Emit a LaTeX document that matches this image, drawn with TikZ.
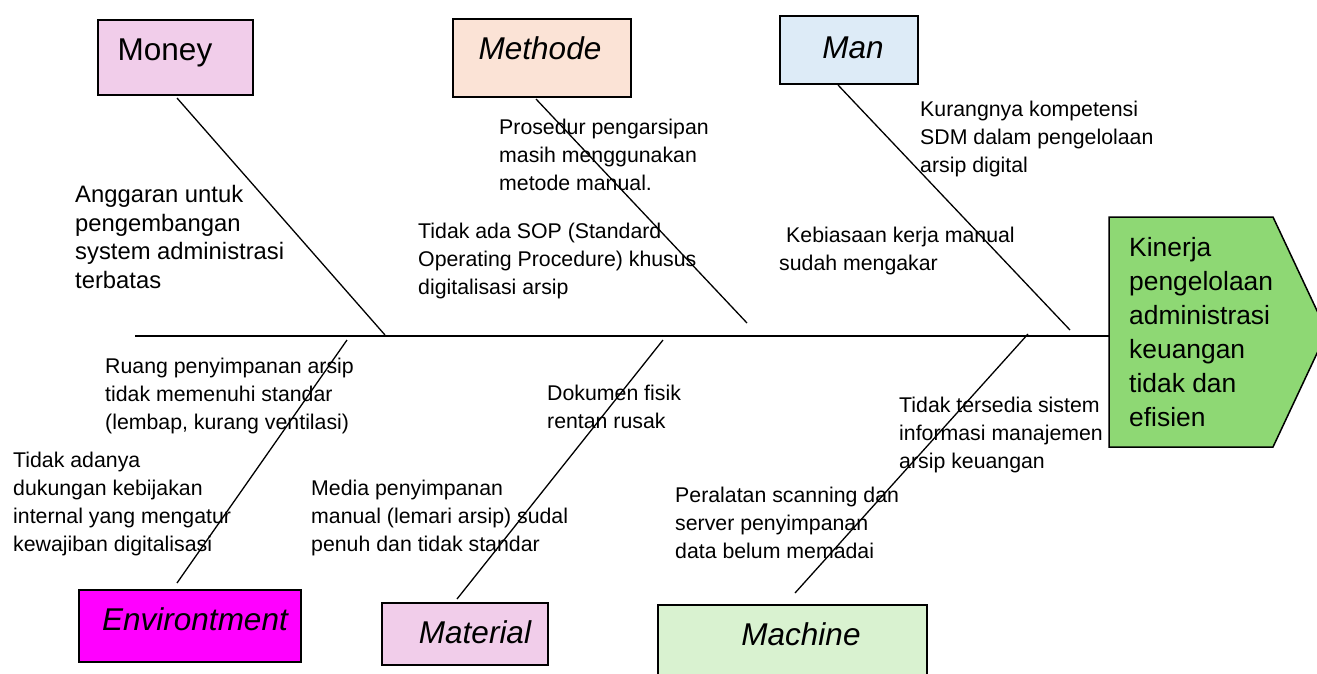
\documentclass[tikz,border=0pt]{standalone}
\usepackage{fontspec}
\setmainfont{Liberation Sans}
\definecolor{moneypink}{RGB}{241,205,234}
\definecolor{methodepeach}{RGB}{251,227,214}
\definecolor{manblue}{RGB}{221,235,247}
\definecolor{envmagenta}{RGB}{255,0,255}
\definecolor{machinegreen}{RGB}{217,242,208}
\definecolor{effectgreen}{RGB}{142,216,116}
\begin{document}
\begin{tikzpicture}[x=1pt,y=-1pt,
    catbox/.style={draw,line width=2pt,anchor=north west,inner sep=0pt},
    catlabel/.style={anchor=base,inner sep=0pt,font=\fontsize{31.5}{36}\selectfont\itshape},
    cause/.style={anchor=north west,inner sep=0pt,align=left,font=\fontsize{21.3}{28}\selectfont},
    bone/.style={line width=1.3pt}]
    \path[use as bounding box,clip] (0,0) rectangle (1317,673);
    % category boxes
    \node[catbox,fill=moneypink,minimum width=155pt,minimum height=75pt] (money) at (97,19) {};
    \node[catbox,fill=methodepeach,minimum width=178pt,minimum height=78pt] (methode) at (452,18) {};
    \node[catbox,fill=manblue,minimum width=138pt,minimum height=68pt] (man) at (779,15) {};
    \node[catbox,fill=envmagenta,minimum width=222pt,minimum height=72pt] (env) at (78,589) {};
    \node[catbox,fill=moneypink,minimum width=166pt,minimum height=62pt] (material) at (381,602) {};
    \node[catbox,fill=machinegreen,minimum width=269pt,minimum height=95pt] (machine) at (657,604) {};
    \node[catlabel,font=\fontsize{31.5}{36}\selectfont] (moneyT) at (165,60) {Money};
    \node[catlabel] (methodeT) at (540,59) {Methode};
    \node[catlabel] (manT) at (853,58) {Man};
    \node[catlabel] (envT) at (195,630) {Environtment};
    \node[catlabel] (materialT) at (475,643) {Material};
    \node[catlabel] (machineT) at (801,645) {Machine};
    % effect
    \draw[fill=effectgreen,line width=1.5pt] (1109,217) -- (1273,217) -- (1327,332)
      -- (1273,447) -- (1109,447) -- cycle;
    \node[anchor=north west,inner sep=0pt,align=left,font=\fontsize{26.4}{34}\selectfont]
      (effectT) at (1129,237) {Kinerja\\pengelolaan\\administrasi\\keuangan\\tidak dan\\efisien};
    % spine and bones
    \coordinate (tail) at (135,336);
    \coordinate (effect) at (1109,336);
    \draw[line width=2pt] (tail) -- (effect);
    \coordinate (moneyA) at (177,98);
    \coordinate (moneyB) at (385,335);
    \coordinate (methodeA) at (536,99);
    \coordinate (methodeB) at (747,323);
    \coordinate (manA) at (838,85);
    \coordinate (manB) at (1070,330);
    \coordinate (envA) at (347,340);
    \coordinate (envB) at (177,583);
    \coordinate (materialA) at (663,340);
    \coordinate (materialB) at (457,599);
    \coordinate (machineA) at (1028,334);
    \coordinate (machineB) at (795,593);
    \draw[bone] (moneyA) -- (moneyB);
    \draw[bone] (methodeA) -- (methodeB);
    \draw[bone] (manA) -- (manB);
    \draw[bone] (envA) -- (envB);
    \draw[bone] (materialA) -- (materialB);
    \draw[bone] (machineA) -- (machineB);
    % causes
    \node[cause,font=\fontsize{23.8}{28.7}\selectfont] (anggaran) at (75,185)
      {Anggaran untuk\\pengembangan\\system administrasi\\terbatas};
    \node[cause] (prosedur) at (499,119) {Prosedur pengarsipan\\masih menggunakan\\metode manual.};
    \node[cause] (sop) at (418,223) {Tidak ada SOP (Standard\\Operating Procedure) khusus\\digitalisasi arsip};
    \node[cause] (kompetensi) at (920,101) {Kurangnya kompetensi\\SDM dalam pengelolaan\\arsip digital};
    \node[cause] (kebiasaan) at (779,227) {\hspace*{7pt}Kebiasaan kerja manual\\sudah mengakar};
    \node[cause] (ruang) at (105,358) {Ruang penyimpanan arsip\\tidak memenuhi standar\\(lembap, kurang ventilasi)};
    \node[cause] (kebijakan) at (13,452) {Tidak adanya\\dukungan kebijakan\\internal yang mengatur\\kewajiban digitalisasi};
    \node[cause] (media) at (311,480) {Media penyimpanan\\manual (lemari arsip) sudal\\penuh dan tidak standar};
    \node[cause] (dokumen) at (547,385) {Dokumen fisik\\rentan rusak};
    \node[cause] (sistem) at (899,397) {Tidak tersedia sistem\\informasi manajemen\\arsip keuangan};
    \node[cause] (peralatan) at (675,487) {Peralatan scanning dan\\server penyimpanan\\data belum memadai};
\end{tikzpicture}
\end{document}
